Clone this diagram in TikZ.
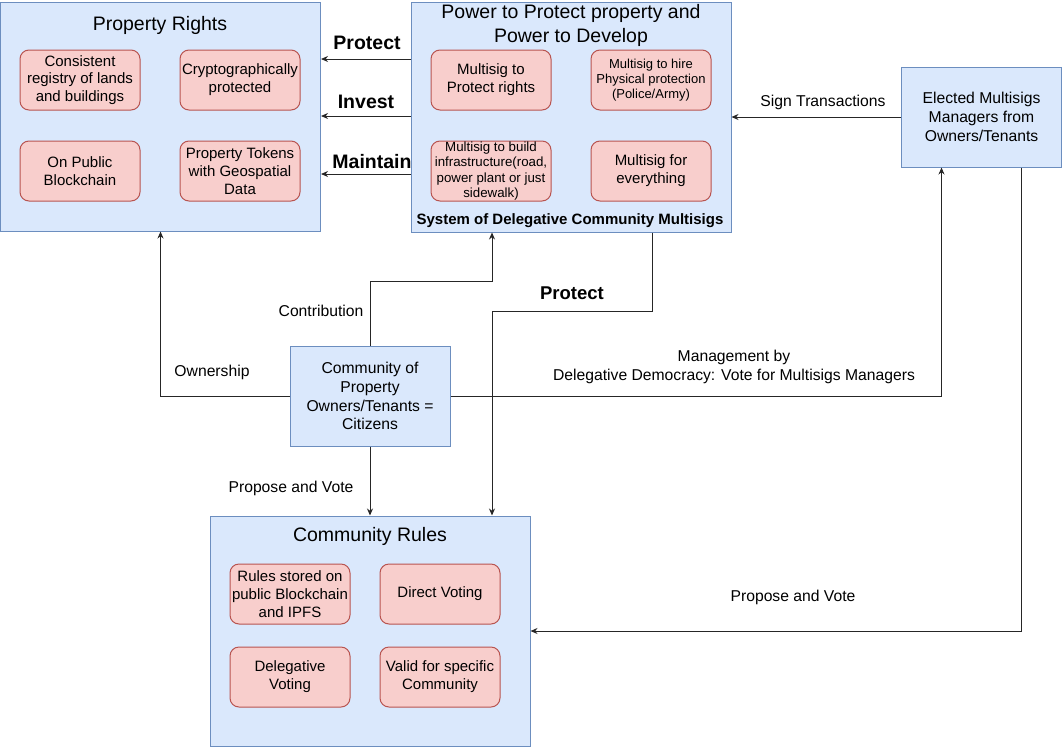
\documentclass[tikz,border=0pt]{standalone}
\usepackage{fontspec}
\setmainfont{Liberation Sans}
\usetikzlibrary{arrows.meta}
\definecolor{bluefill}{HTML}{DAE8FC}
\definecolor{bluedraw}{HTML}{6C8EBF}
\definecolor{redfill}{HTML}{F8CECC}
\definecolor{reddraw}{HTML}{B85450}
\tikzset{
  bigbox/.style={draw=bluedraw, fill=bluefill, line width=1pt, inner sep=0pt, anchor=center},
  item/.style={draw=reddraw, fill=redfill, line width=1pt, rounded corners=9pt, minimum width=120pt, minimum height=60pt, inner sep=0pt, align=center, font=\fontsize{15}{17.8}\selectfont},
  titletext/.style={align=center, inner sep=0pt, font=\fontsize{19.5}{23.4}\selectfont},
  elabel/.style={align=center, inner sep=0pt, font=\fontsize{15.7}{18.9}\selectfont},
  blabel/.style={inner sep=0pt, font=\fontsize{19.5}{23.4}\selectfont\bfseries},
  arr/.style={draw=black!85, line width=1pt, -{Stealth[length=7pt,width=6pt]}},
}
\begin{document}
\begin{tikzpicture}[x=1pt,y=-1pt]
\useasboundingbox (0,0) rectangle (1062,747);
% main boxes
\node[bigbox, minimum width=320pt, minimum height=229pt] (prop) at (160.5,116.5) {};
\node[bigbox, minimum width=320pt, minimum height=230pt] (power) at (571,117) {};
\node[bigbox, minimum width=160pt, minimum height=100pt, align=center, font=\fontsize{15.7}{18.9}\selectfont] (elected) at (981.5,117) {Elected Multisigs\\Managers from\\Owners/Tenants};
\node[bigbox, minimum width=160pt, minimum height=100pt, align=center, font=\fontsize{15.7}{18.9}\selectfont] (comm) at (370,396) {Community of\\Property\\Owners/Tenants =\\Citizens};
\node[bigbox, minimum width=320pt, minimum height=230pt] (rules) at (370,631) {};
% titles
\node[titletext] (proptitle) at (160,25) {Property Rights};
\node[titletext] (powertitle) at (571,25.5) {Power to Protect property and\\Power to Develop};
\node[titletext] (rulestitle) at (370,536) {Community Rules};
\node[inner sep=0pt, font=\fontsize{15}{18}\selectfont\bfseries] (systitle) at (570,221) {System of Delegative Community Multisigs};
% property items
\node[item] (p1) at (80,80) {Consistent\\registry of lands\\and buildings};
\node[item] (p2) at (240,80) {Cryptographically\\protected};
\node[item] (p3) at (80,171) {On Public\\Blockchain};
\node[item] (p4) at (240,171) {Property Tokens\\with Geospatial\\Data};
% power items
\node[item] (m1) at (491,80) {Multisig to\\Protect rights};
\node[item, font=\fontsize{13}{15.3}\selectfont] (m2) at (651,80) {Multisig to hire\\Physical protection\\(Police/Army)};
\node[item, font=\fontsize{13.3}{15.6}\selectfont] (m3) at (491,171) {Multisig to build\\infrastructure(road,\\power plant or just\\sidewalk)};
\node[item] (m4) at (651,171) {Multisig for\\everything};
% rules items
\node[item] (r1) at (290,594) {Rules stored on\\public Blockchain\\and IPFS};
\node[item] (r2) at (440,594) {Direct Voting};
\node[item] (r3) at (290,677) {Delegative\\Voting};
\node[item] (r4) at (440,677) {Valid for specific\\Community};
% connectors
\draw[arr] (power.west |- 0,59) -- (prop.east |- 0,59);
\draw[arr] (power.west |- 0,116) -- (prop.east |- 0,116);
\draw[arr] (power.west |- 0,174) -- (prop.east |- 0,174);
\node[blabel] (lprotect) at (367,43) {Protect};
\node[blabel] (linvest) at (366,102) {Invest};
\node[blabel] (lmaintain) at (372,162) {Maintain};
\draw[arr] (elected.west) -- (power.east);
\node[elabel] (lsign) at (823,102) {Sign Transactions};
\draw[arr] (comm.west) -| (prop.south);
\node[elabel] (lown) at (212,372) {Ownership};
\coordinate (cbend) at (370,281);
\draw[arr] (comm.north) -- (cbend) -| ([xshift=-79pt]power.south);
\node[elabel] (lcontrib) at (321,311) {Contribution};
\coordinate (pbend) at (492,311);
\draw[arr] ([xshift=81pt]power.south) |- (pbend) -- (rules.north -| pbend);
\node[blabel, font=\fontsize{18.5}{22}\selectfont\bfseries] (lprot2) at (572,293) {Protect};
\draw[arr] (comm.east) -| ([xshift=-40pt]elected.south);
\node[elabel] (lmgmt) at (734,367) {Management by\\Delegative Democracy: Vote for Multisigs Managers};
\draw[arr] (comm.south) -- (rules.north);
\node[elabel] (lpv1) at (291,488) {Propose and Vote};
\draw[arr] ([xshift=40pt]elected.south) |- (rules.east);
\node[elabel] (lpv2) at (793,597) {Propose and Vote};
\end{tikzpicture}
\end{document}
